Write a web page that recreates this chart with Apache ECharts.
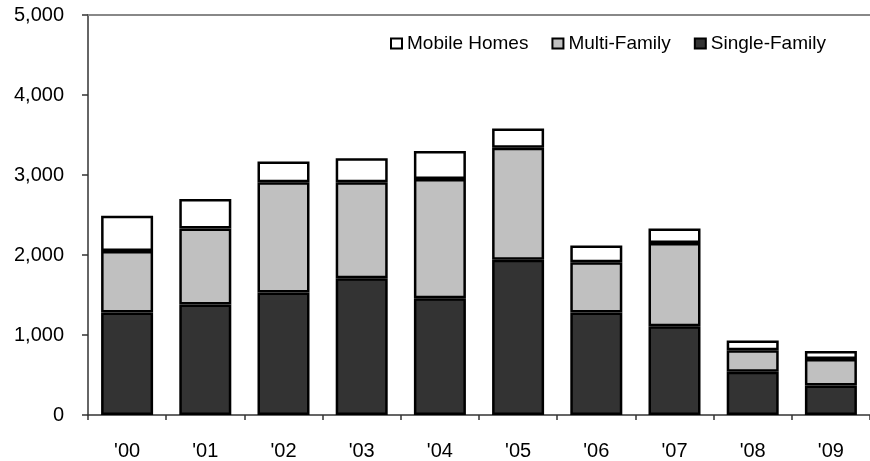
<!DOCTYPE html>
<html>
<head>
<meta charset="utf-8">
<script src="https://cdn.jsdelivr.net/npm/echarts@6/dist/echarts.min.js"></script>
<style>
  html, body { margin: 0; padding: 0; background: #fff; }
  #chart { width: 870px; height: 461px; }
</style>
</head>
<body>
<div id="chart"></div>
<script>
const years = ["'00", "'01", "'02", "'03", "'04", "'05", "'06", "'07", "'08", "'09"]
const singleFamily = [1280, 1380, 1530, 1710, 1460, 1940, 1280, 1110, 540, 370]
const multiFamily = [770, 950, 1380, 1200, 1490, 1400, 630, 1040, 270, 330]
const mobileHomes = [440, 370, 260, 300, 350, 240, 210, 180, 120, 100]

const fontFamily = 'Arial, "Liberation Sans", sans-serif'

function barSeries(name, data, color) {
  return {
    name,
    type: 'bar',
    stack: 'total',
    barWidth: 52,
    data,
    itemStyle: { color, borderColor: '#000', borderWidth: 2.5 },
  }
}

const chart = echarts.init(document.getElementById('chart'), null, { renderer: 'canvas' })
chart.setOption({
  animation: false,
  backgroundColor: '#fff',
  textStyle: { fontFamily },
  grid: { left: 88, top: 15, width: 792, height: 400 },
  legend: {
    data: ['Mobile Homes', 'Multi-Family', 'Single-Family'],
    left: 390,
    top: 34,
    padding: 0,
    itemWidth: 11,
    itemHeight: 10,
    itemGap: 23,
    icon: 'rect',
    itemStyle: { borderWidth: 2 },
    textStyle: { fontFamily, fontSize: 19, color: '#000' },
  },
  xAxis: [{
    type: 'category',
    data: years,
    axisLine: { lineStyle: { color: '#333', width: 1.5 } },
    axisTick: { show: true, length: 5, lineStyle: { color: '#333', width: 1.5 } },
    axisLabel: { color: '#000', fontSize: 20, fontFamily, margin: 26 },
  }, {
    type: 'category',
    data: years,
    position: 'top',
    axisLine: { lineStyle: { color: '#888', width: 2 } },
    axisTick: { show: false },
    axisLabel: { show: false },
  }],
  yAxis: {
    type: 'value',
    min: 0,
    max: 5000,
    interval: 1000,
    axisLine: { show: true, lineStyle: { color: '#333', width: 1.5 } },
    axisTick: { show: true, length: 6, lineStyle: { color: '#333', width: 1.5 } },
    splitLine: { show: false },
    axisLabel: {
      color: '#000',
      fontSize: 20,
      fontFamily,
      margin: 24,
      formatter: (v) => v.toLocaleString('en-US'),
    },
  },
  series: [
    barSeries('Single-Family', singleFamily, '#333333'),
    barSeries('Multi-Family', multiFamily, '#c0c0c0'),
    barSeries('Mobile Homes', mobileHomes, '#ffffff'),
  ],
})
</script>
</body>
</html>
